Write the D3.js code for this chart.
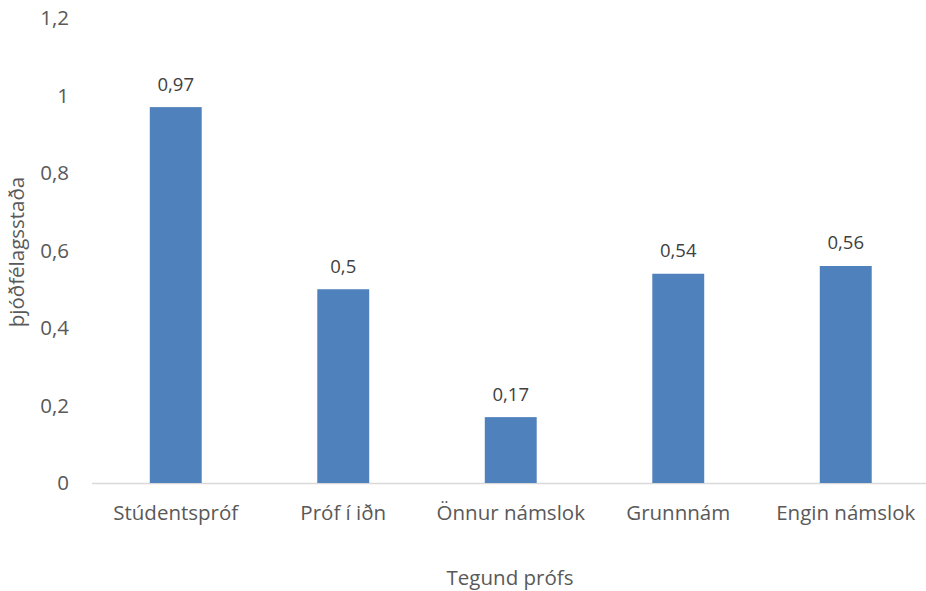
<!DOCTYPE html>
<html><head><meta charset="utf-8">
<script src="https://cdn.jsdelivr.net/npm/d3@7"></script>
<style>body{margin:0;background:#fff}svg{display:block}text{font-family:"Open Sans",Lato,sans-serif;fill:#595959}</style>
</head><body>
<script>
const categories = ["Stúdentspróf","Próf í iðn","Önnur námslok","Grunnnám","Engin námslok"];
const values = [0.97,0.5,0.17,0.54,0.56];
const yTicks = [0,0.2,0.4,0.6,0.8,1,1.2];
const yTitle = "þjóðfélagsstaða";
const xTitle = "Tegund prófs";

const W=926,H=591;
const svg=d3.select("body").append("svg").attr("width",W).attr("height",H);
const fmt=d=>String(d).replace(".",",");
const x=d3.scaleBand().domain(categories).range([92,929.5]).paddingInner(0.69).paddingOuter(0.345);
const y=d3.scaleLinear().domain([0,1.2]).range([483,18]);
const FS="20.5px";

svg.append("g").selectAll("text").data(yTicks).join("text")
 .attr("x",69).attr("y",d=>y(d)).attr("dy","0.35em").attr("text-anchor","end")
 .style("font-size",FS).text(fmt);

svg.append("line").attr("x1",92).attr("x2",926).attr("y1",y(0)+0.5).attr("y2",y(0)+0.5)
 .attr("stroke","#d9d9d9").attr("stroke-width",1.3);

svg.append("g").selectAll("rect").data(values).join("rect")
 .attr("x",(d,i)=>x(categories[i])).attr("width",x.bandwidth())
 .attr("y",d=>y(d)).attr("height",d=>y(0)-y(d)).attr("fill","#4f81bd");

svg.append("g").selectAll("text").data(values).join("text")
 .attr("x",(d,i)=>x(categories[i])+x.bandwidth()/2).attr("y",d=>y(d)-23).attr("dy","0.35em")
 .attr("text-anchor","middle").style("font-size","18.5px").style("fill","#404040").text(fmt);

svg.append("g").selectAll("text").data(categories).join("text")
 .attr("x",d=>x(d)+x.bandwidth()/2).attr("y",513).attr("dy","0.35em")
 .attr("text-anchor","middle").style("font-size",FS).text(d=>d);

svg.append("text").attr("x",510).attr("y",578).attr("dy","0.35em").attr("text-anchor","middle")
 .style("font-size",FS).text(xTitle);

svg.append("text").attr("transform","translate(17,252) rotate(-90)").attr("dy","0.35em")
 .attr("text-anchor","middle").style("font-size",FS).text(yTitle);
</script>
</body></html>
